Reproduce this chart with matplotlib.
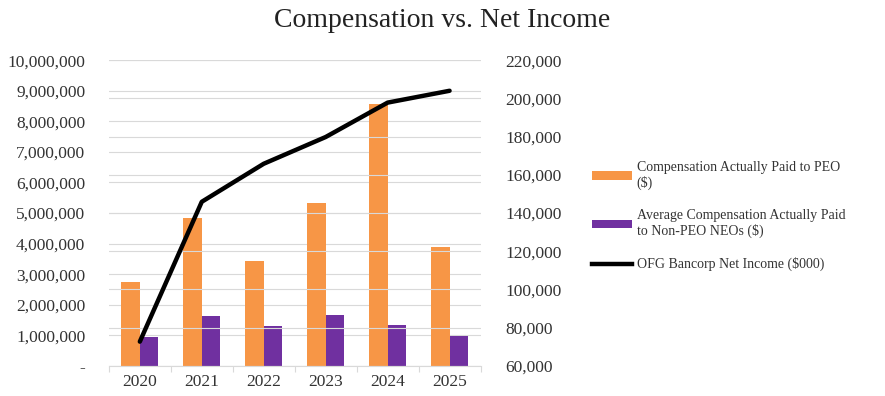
import numpy as np
import matplotlib.pyplot as plt
from matplotlib.patches import Patch
from matplotlib.lines import Line2D

plt.rcParams['font.family'] = ['Liberation Serif', 'DejaVu Serif']

years = ['2020', '2021', '2022', '2023', '2024', '2025']
peo_cap = [2730000, 4830000, 3440000, 5330000, 8580000, 3880000]
neo_cap = [930000, 1640000, 1290000, 1680000, 1340000, 980000]
net_income = [72700, 145900, 165800, 179800, 197800, 204000]

left_ticks = np.arange(0, 10000001, 1000000)
right_ticks = np.arange(60000, 220001, 20000)

orange = '#F79646'
purple = '#7030A0'
grid_c = '#D9D9D9'
txt_c = '#333333'

fig = plt.figure(figsize=(8.85, 3.96), dpi=100)
ax = fig.add_axes([0.123, 0.076, 0.42, 0.772])
ax2 = ax.twinx()

x = np.arange(len(years))
w = 0.3
ax.bar(x - w / 2, peo_cap, w, color=orange, zorder=2)
ax.bar(x + w / 2, neo_cap, w, color=purple, zorder=2)
ax2.plot(x, net_income, color='black', lw=3.2, solid_capstyle='round', zorder=3)

ax.set_xlim(-0.5, len(years) - 0.5)
ax.set_ylim(0, 10000000)
ax2.set_ylim(60000, 220000)

ax.set_yticks(left_ticks)
ax.set_yticklabels(['-'] + [f'{v:,}' for v in left_ticks[1:]])
ax2.set_yticks(right_ticks)
ax2.set_yticklabels([f'{v:,}' for v in right_ticks])
ax.set_xticks(x)
ax.set_xticklabels(years)
ax.set_xticks(np.arange(-0.5, len(years)), minor=True)

for a in (ax, ax2):
    for s in a.spines.values():
        s.set_visible(False)
    a.tick_params(axis='y', length=0, labelsize=12.5, colors=txt_c)
ax.tick_params(axis='y', pad=17)
ax2.tick_params(axis='y', pad=18)
ax.tick_params(axis='x', which='major', length=0, labelsize=12.5, colors=txt_c, pad=6)
ax.tick_params(axis='x', which='minor', length=4, color=grid_c, width=0.8)
ax.spines['bottom'].set_visible(True)
ax.spines['bottom'].set_color(grid_c)

ax.grid(axis='y', color=grid_c, lw=0.8, zorder=0)
ax2.grid(axis='y', color=grid_c, lw=0.8, zorder=0)
ax.set_axisbelow(True)
ax2.set_axisbelow(True)

fig.text(0.5, 0.947, 'Compensation vs. Net Income', ha='center', va='center',
         fontsize=20, color='#222222')

handles = [
    Patch(facecolor=orange),
    Patch(facecolor=purple),
    Line2D([0], [0], color='black', lw=3.2),
]
labels = [
    'Compensation Actually Paid to PEO\n($)',
    'Average Compensation Actually Paid\nto Non-PEO NEOs ($)',
    'OFG Bancorp Net Income ($000)',
]
fig.legend(handles, labels, loc='upper left', bbox_to_anchor=(0.655, 0.625),
           frameon=False, fontsize=10, handlelength=2.9, handleheight=0.6,
           handletextpad=0.3, labelspacing=1.35, labelcolor=txt_c)

fig.savefig('out.png', dpi=100)
